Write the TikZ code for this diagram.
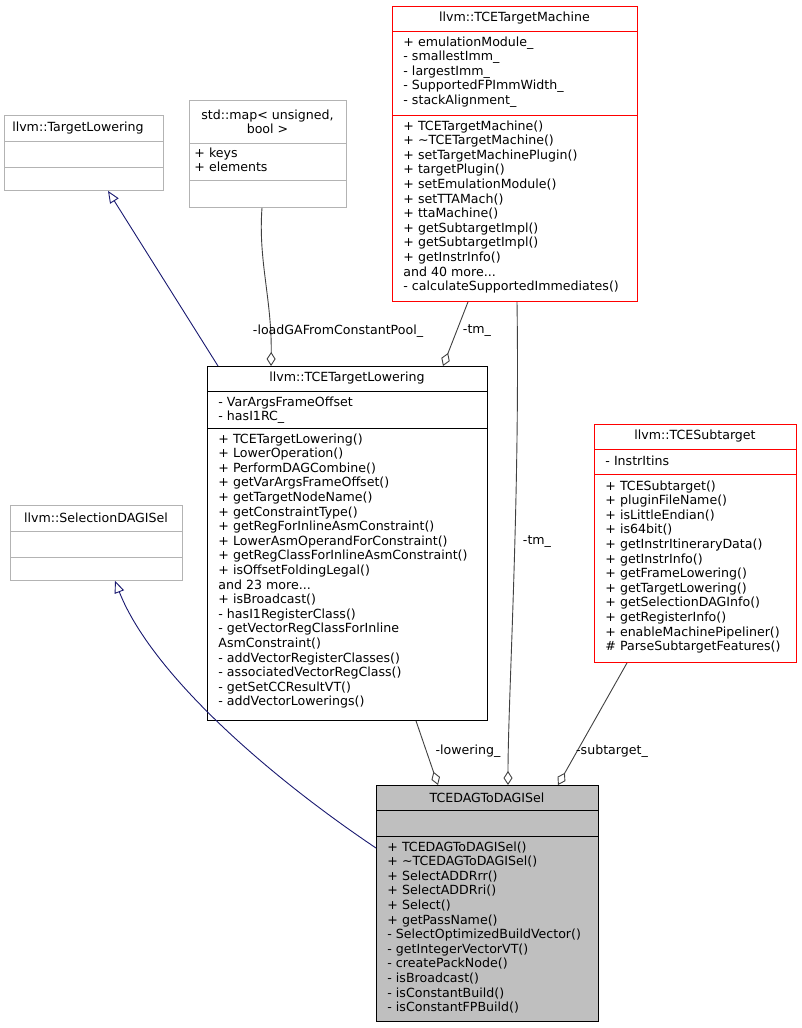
\documentclass[tikz,border=0pt]{standalone}
\usepackage{fontspec}
\setmainfont{DejaVu Sans}
\usetikzlibrary{arrows.meta}
\definecolor{navy}{HTML}{191970}
\definecolor{edgegray}{HTML}{404040}
\definecolor{boxgray}{HTML}{BFBFBF}
\definecolor{lgray}{HTML}{B3B3B3}
\tikzset{
  txt/.style={anchor=north west,inner sep=0pt,align=left,font=\fontsize{12.6}{#1}\selectfont},
  txt/.default=14.6,
  ttl/.style={inner sep=0pt,align=center,font=\fontsize{12.6}{14}\selectfont},
  inh/.style={navy,-{Triangle[open,length=12pt,width=10pt]}},
  agg/.style={edgegray,-{Diamond[open,length=14pt,width=9pt]}},
  lbl/.style={inner sep=1pt,font=\fontsize{12.6}{14}\selectfont}
}
\newcommand\umlbox[7]{%
  \node[draw=#6,fill=#7,inner sep=0pt,minimum width={#4-#2},minimum height={#5-#3},anchor=north west] (#1) at (#2,#3) {};}
\begin{document}
\begin{tikzpicture}[x=1pt,y=-1pt,line width=0.9pt]
\useasboundingbox (0,0) rectangle (802,1028);
% TargetLowering
\umlbox{tlow}{4}{115}{163}{190}{lgray}{white}
\draw[lgray] (4,141) -- (163,141) (4,167) -- (163,167);
\node[ttl] (tlowt) at (78,128) {llvm::TargetLowering};
% std::map
\umlbox{map}{189}{100}{346}{207}{lgray}{white}
\draw[lgray] (189,143) -- (346,143) (189,180) -- (346,180);
\node[ttl] (mapt) at (267.5,121.5) {std::map< unsigned,\\bool >};
\node[txt] (mapf) at (194,147) {+ keys\\+ elements};
% TCETargetMachine
\umlbox{tm}{392}{6}{637}{301}{red}{white}
\draw[red] (392,31) -- (637,31) (392,115) -- (637,115);
\node[ttl] (tmt) at (514.5,18.5) {llvm::TCETargetMachine};
\node[txt] (tmf) at (403,36) {+ emulationModule\_\\- smallestImm\_\\- largestImm\_\\- SupportedFPImmWidth\_\\- stackAlignment\_};
\node[txt] (tmm) at (403,120) {+ TCETargetMachine()\\+ \textasciitilde TCETargetMachine()\\+ setTargetMachinePlugin()\\+ targetPlugin()\\+ setEmulationModule()\\+ setTTAMach()\\+ ttaMachine()\\+ getSubtargetImpl()\\+ getSubtargetImpl()\\+ getInstrInfo()\\and 40 more...\\- calculateSupportedImmediates()};
% TCETargetLowering
\umlbox{tcetl}{207}{366}{487}{720}{black}{white}
\draw (207,391) -- (487,391) (207,428) -- (487,428);
\node[ttl] (tcetlt) at (347,378.5) {llvm::TCETargetLowering};
\node[txt] (tcetlf) at (218,396) {- VarArgsFrameOffset\\- hasI1RC\_};
\node[txt] (tcetlm) at (218,433) {+ TCETargetLowering()\\+ LowerOperation()\\+ PerformDAGCombine()\\+ getVarArgsFrameOffset()\\+ getTargetNodeName()\\+ getConstraintType()\\+ getRegForInlineAsmConstraint()\\+ LowerAsmOperandForConstraint()\\+ getRegClassForInlineAsmConstraint()\\+ isOffsetFoldingLegal()\\and 23 more...\\+ isBroadcast()\\- hasI1RegisterClass()\\- getVectorRegClassForInline\\AsmConstraint()\\- addVectorRegisterClasses()\\- associatedVectorRegClass()\\- getSetCCResultVT()\\- addVectorLowerings()};
% SelectionDAGISel
\umlbox{sdag}{10}{505}{182}{580}{lgray}{white}
\draw[lgray] (10,531) -- (182,531) (10,557) -- (182,557);
\node[ttl] (sdagt) at (96,518) {llvm::SelectionDAGISel};
% TCESubtarget
\umlbox{st}{594}{424}{796}{662}{red}{white}
\draw[red] (594,449) -- (796,449) (594,474) -- (796,474);
\node[ttl] (stt) at (695,436.5) {llvm::TCESubtarget};
\node[txt] (stf) at (605,455) {- InstrItins};
\node[txt] (stm) at (605,480) {+ TCESubtarget()\\+ pluginFileName()\\+ isLittleEndian()\\+ is64bit()\\+ getInstrItineraryData()\\+ getInstrInfo()\\+ getFrameLowering()\\+ getTargetLowering()\\+ getSelectionDAGInfo()\\+ getRegisterInfo()\\+ enableMachinePipeliner()\\\# ParseSubtargetFeatures()};
% TCEDAGToDAGISel
\umlbox{dag}{376}{785}{598}{1021}{black}{boxgray}
\draw (376,810) -- (598,810) (376,836) -- (598,836);
\node[ttl] (dagt) at (487,797.5) {TCEDAGToDAGISel};
\node[txt] (dagm) at (387,841) {+ TCEDAGToDAGISel()\\+ \textasciitilde TCEDAGToDAGISel()\\+ SelectADDRrr()\\+ SelectADDRri()\\+ Select()\\+ getPassName()\\- SelectOptimizedBuildVector()\\- getIntegerVectorVT()\\- createPackNode()\\- isBroadcast()\\- isConstantBuild()\\- isConstantFPBuild()};
% edges
\draw[inh] ([xshift=11pt]tcetl.north west) -- ([xshift=104pt]tlow.south west);
\draw[inh] ([yshift=-63pt]dag.north west) .. controls (260,770) and (150,670) .. ([xshift=105pt]sdag.south west);
\draw[agg] ([xshift=73pt]map.south west) .. controls (258,260) and (272,300) .. ([xshift=64pt]tcetl.north west);
\node[lbl] (l1) at (338,331) {-loadGAFromConstantPool\_};
\draw[agg] ([xshift=76pt]tm.south west) -- ([xshift=236pt]tcetl.north west);
\node[lbl] (l2) at (477,331) {-tm\_};
\draw[agg] ([xshift=125pt]tm.south west) .. controls (520,500) and (508,700) .. ([xshift=132pt]dag.north west);
\node[lbl] (l3) at (537,542) {-tm\_};
\draw[agg] ([xshift=209pt]tcetl.south west) -- ([xshift=62pt]dag.north west);
\node[lbl] (l4) at (468,751) {-lowering\_};
\draw[agg] ([xshift=33pt]st.south west) -- ([xshift=182pt]dag.north west);
\node[lbl] (l5) at (612,751) {-subtarget\_};
\end{tikzpicture}
\end{document}
